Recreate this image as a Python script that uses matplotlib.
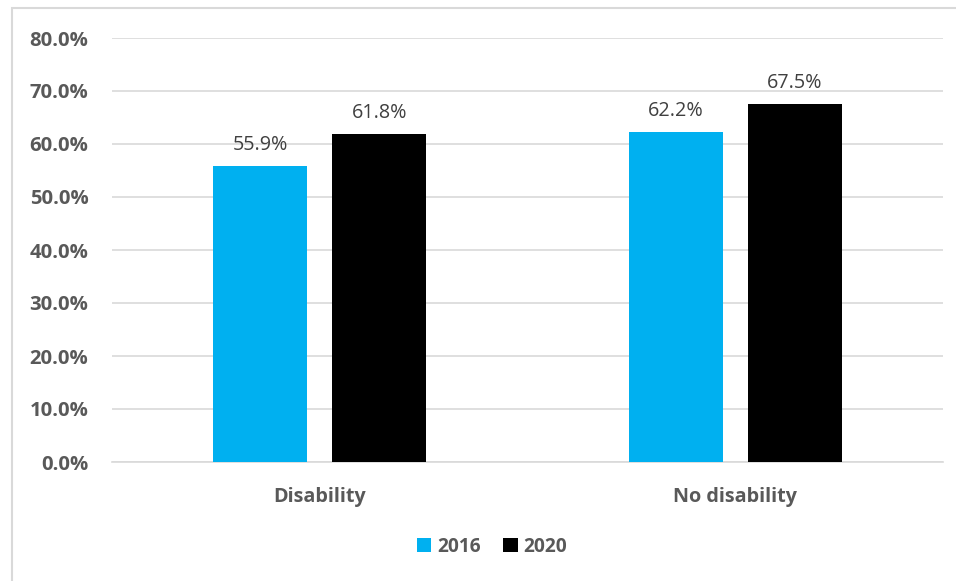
import matplotlib.pyplot as plt
import numpy as np
from matplotlib.patches import Rectangle

categories = ['Disability', 'No disability']
years = ['2016', '2020']
vals_2016 = [55.9, 62.2]
vals_2020 = [61.8, 67.5]
yticks = [0, 10, 20, 30, 40, 50, 60, 70, 80]

plt.rcParams['font.family'] = ['Open Sans', 'DejaVu Sans']

fig = plt.figure(figsize=(9.56, 5.81), dpi=100)
ax = fig.add_axes([112 / 956, 1 - 462 / 581, 831 / 956, 424 / 581])

# chart border (left and top edges visible)
fig.patches.append(Rectangle((12 / 956, -0.1), 1.2, 1 - 8 / 581 + 0.1,
                             transform=fig.transFigure, fill=False,
                             edgecolor='#d9d9d9', linewidth=1.5))

x = np.arange(len(categories))
w = 0.226
off = 0.143
b1 = ax.bar(x - off, vals_2016, w, color='#00b0f0', label=years[0], zorder=3)
b2 = ax.bar(x + off, vals_2020, w, color='#000000', label=years[1], zorder=3)

for bars, vals in [(b1, vals_2016), (b2, vals_2020)]:
    for rect, v in zip(bars, vals):
        ax.text(rect.get_x() + rect.get_width() / 2, v + 2.1, f'{v:.1f}%',
                ha='center', va='bottom', fontsize=14.2, color='#404040')

ax.set_xlim(-0.5, 1.5)
ax.set_ylim(0, 80)
ax.set_yticks(yticks)
ax.set_yticklabels([f'{t:.1f}%' for t in yticks], fontsize=14.6,
                   fontweight='bold', color='#595959')
ax.set_xticks(x)
ax.set_xticklabels(categories, fontsize=14.2, fontweight='bold', color='#595959')
ax.tick_params(axis='both', length=0)
ax.tick_params(axis='y', pad=17)
ax.tick_params(axis='x', pad=18)
ax.grid(axis='y', color='#d9d9d9', linewidth=1.2, zorder=0)
for s in ['top', 'right', 'left']:
    ax.spines[s].set_visible(False)
ax.spines['bottom'].set_color('#d9d9d9')
ax.spines['bottom'].set_linewidth(1.2)

leg = fig.legend(handles=[b1, b2], labels=years, loc='center',
                 bbox_to_anchor=(492 / 956, 1 - 547 / 581), ncol=2,
                 frameon=False, handlelength=0.75, handleheight=0.75,
                 handletextpad=0.3, columnspacing=1.2,
                 prop={'size': 13.8, 'weight': 'bold'})
for t in leg.get_texts():
    t.set_color('#595959')

fig.savefig('out.png', dpi=100)
